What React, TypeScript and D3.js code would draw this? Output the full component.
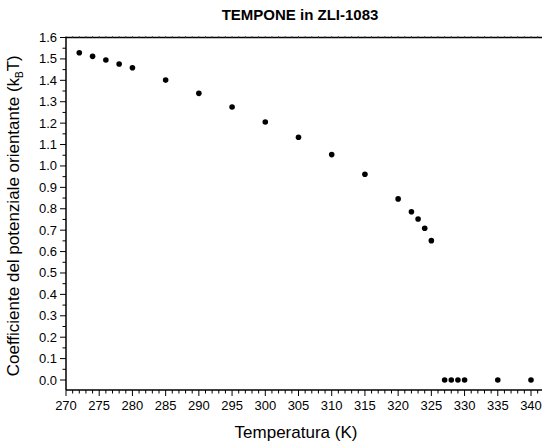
import React, { useEffect, useRef } from 'react';
import * as d3 from 'd3';

// temperature (K) and orienting potential coefficient (kBT)
const temperatures = [272, 274, 276, 278, 280, 285, 290, 295, 300, 305, 310, 315, 320, 322, 323, 324, 325, 327, 328, 329, 330, 335, 340];
const coefficients = [1.529, 1.512, 1.495, 1.476, 1.459, 1.401, 1.339, 1.275, 1.205, 1.134, 1.053, 0.961, 0.846, 0.786, 0.752, 0.709, 0.651, 0, 0, 0, 0, 0, 0];
const xTicks = d3.range(270, 341, 5);
const yTicks = d3.range(0, 16.1, 1).map(v => v / 10);

const W = 542;
const H = 445;

const App = () => {
  const node = useRef<SVGSVGElement>(null);

  useEffect(() => {
    const svg = d3.select(node.current);
    svg.selectAll('*').remove();

    const left = 66, top = 37.5, bottom = 390;
    const x = d3.scaleLinear().domain([270, 340]).range([left, 531]);
    const y = d3.scaleLinear().domain([0, 1.6]).range([380, top]);
    const xMax = x.invert(W + 5);

    const g = svg.append('g')
      .attr('font-family', 'Liberation Sans, Arial, sans-serif');

    // frame (top + left + bottom, right side runs off the page)
    g.append('line').attr('x1', left).attr('x2', W + 5).attr('y1', top).attr('y2', top)
      .attr('stroke', '#000').attr('stroke-width', 1.5);
    g.append('line').attr('x1', left).attr('x2', W + 5).attr('y1', bottom).attr('y2', bottom)
      .attr('stroke', '#000').attr('stroke-width', 1.5);
    g.append('line').attr('x1', left).attr('x2', left).attr('y1', top).attr('y2', bottom)
      .attr('stroke', '#000').attr('stroke-width', 1.5);

    // x ticks
    const xMinor = d3.range(270, xMax, 1);
    g.append('g').selectAll('line')
      .data(xMinor)
      .join('line')
        .attr('x1', d => x(d)).attr('x2', d => x(d))
        .attr('y1', bottom)
        .attr('y2', d => bottom + (d % 5 === 0 ? 6 : 3.5))
        .attr('stroke', '#000').attr('stroke-width', 1);
    g.append('g').selectAll('line')
      .data(xMinor)
      .join('line')
        .attr('x1', d => x(d)).attr('x2', d => x(d))
        .attr('y1', top)
        .attr('y2', top - 1.5)
        .attr('stroke', '#555').attr('stroke-width', 1);
    g.append('g')
      .attr('font-size', 13)
      .attr('text-anchor', 'middle')
      .selectAll('text')
      .data(xTicks)
      .join('text')
        .attr('x', d => x(d))
        .attr('y', bottom + 20)
        .text(d => d);

    // y ticks
    const yMinor = d3.range(0, 33).map(i => i / 20);
    g.append('g').selectAll('line')
      .data(yMinor)
      .join('line')
        .attr('x1', left)
        .attr('x2', (d, i) => left - (i % 2 === 0 ? 6 : 3.5))
        .attr('y1', d => y(d)).attr('y2', d => y(d))
        .attr('stroke', '#000').attr('stroke-width', 1);
    g.append('g')
      .attr('font-size', 13)
      .attr('text-anchor', 'end')
      .selectAll('text')
      .data(yTicks)
      .join('text')
        .attr('x', left - 9)
        .attr('y', d => y(d) + 4.5)
        .text(d => d3.format('.1f')(d));

    // points
    g.append('g').selectAll('circle')
      .data(temperatures)
      .join('circle')
        .attr('cx', d => x(d))
        .attr('cy', (d, i) => y(coefficients[i]))
        .attr('r', 2.8)
        .attr('fill', '#000');

    // titles
    g.append('text')
      .attr('x', 300).attr('y', 20)
      .attr('text-anchor', 'middle')
      .attr('font-size', 15)
      .attr('font-weight', 'bold')
      .text('TEMPONE in ZLI-1083');
    g.append('text')
      .attr('x', 296).attr('y', 438)
      .attr('text-anchor', 'middle')
      .attr('font-size', 17)
      .text('Temperatura (K)');
    const yl = g.append('text')
      .attr('transform', `translate(19,${(top + bottom) / 2 + 2}) rotate(-90)`)
      .attr('text-anchor', 'middle')
      .attr('font-size', 17);
    yl.append('tspan').text('Coefficiente del potenziale orientante (k');
    yl.append('tspan').attr('font-size', 10).attr('dy', 4).text('B');
    yl.append('tspan').attr('dy', -4).text('T)');
  }, []);

  return (
    <svg ref={node} width={W} height={H}
      style={{ position: 'absolute', left: 0, top: 0, background: '#fff' }} />
  );
};

export default App;
